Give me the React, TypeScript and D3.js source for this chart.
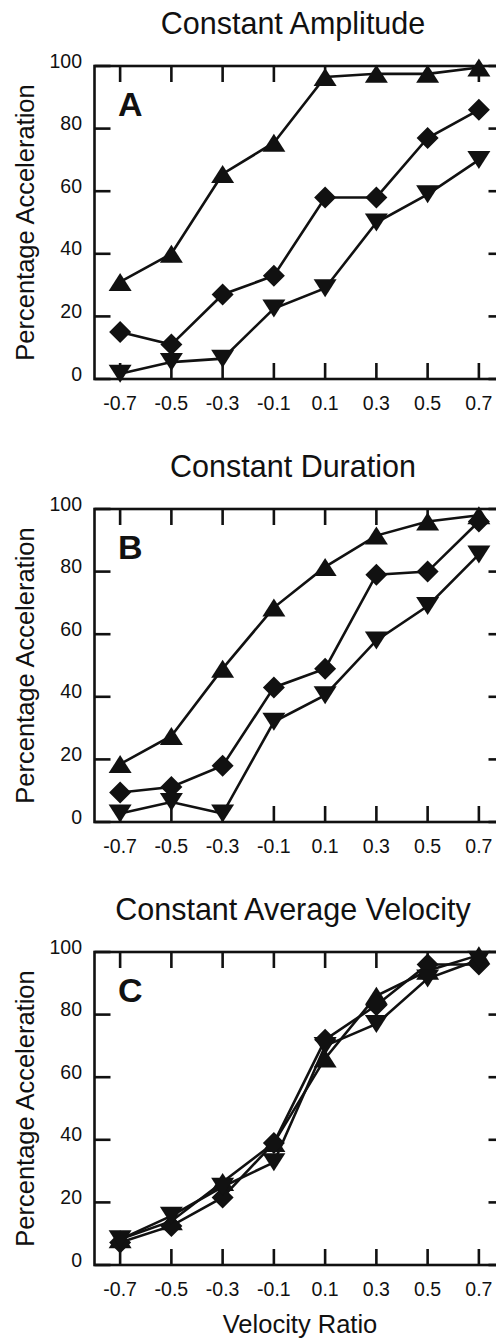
import React from 'react';
import * as d3 from 'd3';

const width = 496;
const height = 1338;
const font = '"Liberation Sans", Arial, Helvetica, sans-serif';

const velocityRatio = [-0.7, -0.5, -0.3, -0.1, 0.1, 0.3, 0.5, 0.7];
const yTicks = [0, 20, 40, 60, 80, 100];

const panelTitles = ['Constant Amplitude', 'Constant Duration', 'Constant Average Velocity'];
const panelLetters = ['A', 'B', 'C'];

// Constant amplitude
const ampUp = [31, 40, 65.5, 75.5, 96.5, 97.5, 97.5, 99.5];
const ampDiamond = [15, 11, 27, 33, 58, 58, 77, 86];
const ampDown = [1.7, 5.4, 6.5, 22.5, 29, 50, 59, 70];

// Constant duration
const durUp = [18.5, 27.5, 49, 68.5, 81.5, 91.5, 96, 98];
const durDiamond = [9.4, 11.2, 18, 43, 49, 79, 80, 96];
const durDown = [2.7, 6.4, 2.7, 32, 40.5, 58, 69, 85.5];

// Constant average velocity
const velUp = [8.2, 14, 26.5, 39, 66, 86, 94, 99];
const velDiamond = [7.2, 12.5, 21.6, 39, 72, 83, 96, 96];
const velDown = [8.2, 15.7, 25, 32.8, 70, 77, 91.5, 97.5];

const panelSeries = [
  [ampUp, ampDiamond, ampDown],
  [durUp, durDiamond, durDown],
  [velUp, velDiamond, velDown],
];
const shapes = ['up', 'diamond', 'down'];

const panelTops = [66, 509, 952];
const plotH = 313;
const xLeft = 94.5;
const xRight = 504.5;
const tickLen = 16;
const sw = 2.6;

const x = d3.scaleLinear().domain([-0.8, 0.8]).range([xLeft, xRight]);

// tick labels use a plain hyphen like the original figure
const fmtX = v => v.toFixed(1);

function marker(shape, cx, cy, key) {
  const w = 23;
  const h = 18;
  let d;
  if (shape === 'up') {
    d = `M${cx - w / 2},${cy + h / 2}L${cx + w / 2},${cy + h / 2}L${cx},${cy - h / 2}Z`;
  } else if (shape === 'down') {
    d = `M${cx - w / 2},${cy - h / 2}L${cx + w / 2},${cy - h / 2}L${cx},${cy + h / 2}Z`;
  } else {
    const r = 11;
    d = `M${cx},${cy - r}L${cx + r},${cy}L${cx},${cy + r}L${cx - r},${cy}Z`;
  }
  return <path key={key} d={d} fill="#111" />;
}

function Panel({ idx }) {
  const top = panelTops[idx];
  const y = d3.scaleLinear().domain([0, 100]).range([top + plotH, top]);
  const series = panelSeries[idx];
  const line = d3
    .line()
    .x((d, i) => x(velocityRatio[i]))
    .y(d => y(d));
  const bottom = y(0);
  return (
    <g>
      <text
        x={293}
        y={top - 32}
        textAnchor="middle"
        fontSize={30.5}
        fontFamily={font}
        fill="#111"
      >
        {panelTitles[idx]}
      </text>
      {/* frame */}
      <rect
        x={xLeft}
        y={top}
        width={xRight - xLeft}
        height={plotH}
        fill="none"
        stroke="#111"
        strokeWidth={sw}
      />
      {velocityRatio.map(v => (
        <g key={'xt' + v}>
          <line x1={x(v)} x2={x(v)} y1={top} y2={top + tickLen} stroke="#111" strokeWidth={sw} />
          <line x1={x(v)} x2={x(v)} y1={bottom} y2={bottom - tickLen} stroke="#111" strokeWidth={sw} />
          <text
            x={x(v)}
            y={bottom + 31}
            textAnchor="middle"
            fontSize={19.5}
            fontFamily={font}
            fill="#111"
          >
            {fmtX(v)}
          </text>
        </g>
      ))}
      {yTicks.map(t => (
        <g key={'yt' + t}>
          <line x1={xLeft} x2={xLeft + tickLen} y1={y(t)} y2={y(t)} stroke="#111" strokeWidth={sw} />
          <line x1={xRight} x2={xRight - tickLen} y1={y(t)} y2={y(t)} stroke="#111" strokeWidth={sw} />
          <text
            x={82}
            y={y(t) + 1.5}
            textAnchor="end"
            fontSize={19.5}
            fontFamily={font}
            fill="#111"
          >
            {t}
          </text>
        </g>
      ))}
      <text
        transform={`translate(34, ${top + plotH / 2}) rotate(-90)`}
        textAnchor="middle"
        fontSize={25.5}
        fontFamily={font}
        fill="#111"
      >
        Percentage Acceleration
      </text>
      <text
        x={118}
        y={top + 50}
        fontSize={34}
        fontWeight="bold"
        fontFamily={font}
        fill="#111"
      >
        {panelLetters[idx]}
      </text>
      {series.map((s, si) => (
        <path key={'l' + si} d={line(s)} fill="none" stroke="#111" strokeWidth={sw} />
      ))}
      {series.map((s, si) =>
        s.map((v, i) => marker(shapes[si], x(velocityRatio[i]), y(v), `m${si}-${i}`))
      )}
    </g>
  );
}

export default function App() {
  return (
    <svg
      width={width}
      height={height}
      style={{ position: 'absolute', left: 0, top: 0, background: '#fff' }}
    >
      <rect width={width} height={height} fill="#fff" />
      {[0, 1, 2].map(i => (
        <Panel key={i} idx={i} />
      ))}
      <text
        x={300}
        y={1333}
        textAnchor="middle"
        fontSize={25.5}
        fontFamily={font}
        fill="#111"
      >
        Velocity Ratio
      </text>
    </svg>
  );
}
